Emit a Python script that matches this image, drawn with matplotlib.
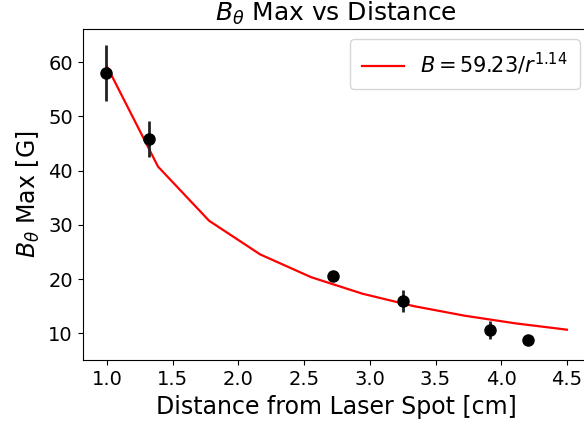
import numpy as np
import matplotlib
matplotlib.use("Agg")
import matplotlib.pyplot as plt

# Measured peak field vs. distance from the laser spot
distance_cm = [0.99, 1.32, 2.72, 3.25, 3.915, 4.20]
b_max_gauss = [58.0, 45.85, 20.6, 15.9, 10.6, 8.75]
b_err_gauss = [5.1, 3.35, 0.5, 2.05, 1.6, 0.5]

# Power-law fit B = A / r^n
fit_amp = 59.23
fit_exp = 1.14
fit_r = np.linspace(1.0, 4.5, 10)
fit_b = fit_amp / fit_r ** fit_exp

fig = plt.figure(figsize=(5.84, 4.25), dpi=100)
ax = fig.add_axes([0.1413, 0.152, 0.869, 0.7798])

ax.plot(fit_r, fit_b, color="red", lw=1.6,
        label=r"$B = %.2f/r^{%.2f}$" % (fit_amp, fit_exp))
ax.errorbar(distance_cm, b_max_gauss, yerr=b_err_gauss, fmt="o",
            color="black", ecolor="#222222", elinewidth=2.0, ms=8)

ax.set_xlim(0.8145, 4.6755)
ax.set_ylim(5.0, 66.1)
ax.set_xticks([1.0, 1.5, 2.0, 2.5, 3.0, 3.5, 4.0, 4.5])
ax.set_yticks([10, 20, 30, 40, 50, 60])
ax.tick_params(labelsize=14)

ax.set_xlabel("Distance from Laser Spot [cm]", fontsize=17)
ax.set_ylabel(r"$B_\theta$ Max [G]", fontsize=17)
ax.set_title(r"$B_\theta$ Max vs Distance", fontsize=18)
ax.legend(fontsize=15, loc="upper right", borderpad=0.56)

fig.savefig("out.png", dpi=100)
